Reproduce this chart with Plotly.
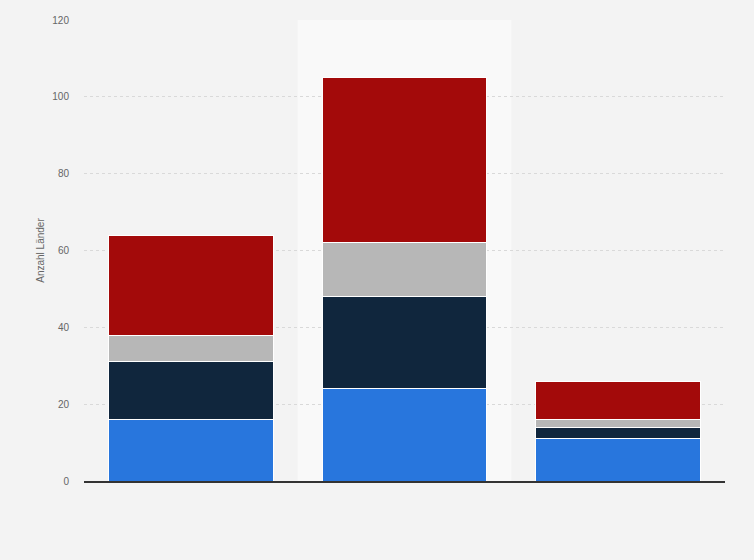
import plotly.graph_objs as go

categories = ['A', 'B', 'C']
blue_vals = [16, 24, 11]
navy_vals = [15, 24, 3]
gray_vals = [7, 14, 2]
red_vals = [26, 43, 10]
y_ticks = [0, 20, 40, 60, 80, 100, 120]

series = [
    ('Serie 1', blue_vals, '#2876dd'),
    ('Serie 2', navy_vals, '#10263d'),
    ('Serie 3', gray_vals, '#b7b7b7'),
    ('Serie 4', red_vals, '#a30a0a'),
]

data = []
for name, vals, color in series:
    trace = go.Bar(x=categories,
                   y=vals,
                   name=name,
                   marker=dict(color=color, line=dict(color='#ffffff', width=1)),
                   )
    data.append(trace)

layout = go.Layout(barmode='stack',
                   bargap=0.23,
                   width=754, height=560,
                   margin=dict(l=84, r=29, t=20, b=79),
                   paper_bgcolor='#f3f3f3',
                   plot_bgcolor='#f3f3f3',
                   showlegend=False,
                   font=dict(family='Arial, Liberation Sans, sans-serif', color='#666666', size=10),
                   xaxis=dict(showticklabels=False, showgrid=False, ticks='',
                              showline=True, linecolor='#333333', linewidth=1.5,
                              range=[-0.5, 2.5]),
                   yaxis=dict(title=dict(text='Anzahl Länder', standoff=5,
                                         font=dict(size=10, color='#666666')),
                              range=[0, 120], tickvals=y_ticks,
                              ticklabelstandoff=14,
                              showgrid=True, gridcolor='#d9d9d9', griddash='dot',
                              zeroline=False, ticks='', ticklen=0),
                   shapes=[dict(type='rect', xref='x', yref='paper',
                                x0=0.5, x1=1.5, y0=0, y1=1,
                                fillcolor='#f9f9f9', line=dict(width=0),
                                layer='below')],
                   )

fig = go.Figure(data=data, layout=layout)
fig.write_html('out.html', config={'displayModeBar': False},
               post_script="document.body.style.margin='0';")
